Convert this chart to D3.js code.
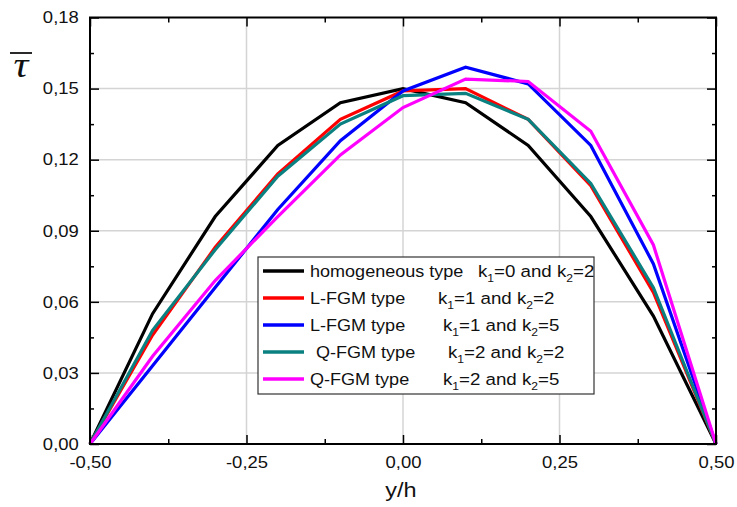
<html>
<head>
<meta charset="utf-8">
<script src="https://d3js.org/d3.v7.min.js"></script>
<style>
  body { margin: 0; background: #fff; }
  svg { font-family: "Liberation Sans", Arial, sans-serif; }
</style>
</head>
<body>
<script>
// data
var yh = [-0.5, -0.4, -0.3, -0.2, -0.1, 0.0, 0.1, 0.2, 0.3, 0.4, 0.5];
var homogeneous = [0, 0.055, 0.096, 0.126, 0.144, 0.150, 0.144, 0.126, 0.096, 0.054, 0];
var lfgm12 = [0, 0.046, 0.083, 0.114, 0.137, 0.149, 0.150, 0.137, 0.109, 0.064, 0];
var lfgm15 = [0, 0.033, 0.066, 0.099, 0.128, 0.149, 0.159, 0.152, 0.126, 0.076, 0];
var qfgm22 = [0, 0.048, 0.082, 0.113, 0.135, 0.147, 0.148, 0.137, 0.110, 0.066, 0];
var qfgm25 = [0, 0.037, 0.069, 0.096, 0.122, 0.142, 0.154, 0.153, 0.132, 0.084, 0];

var typeNames = ["homogeneous type", "L-FGM type", "L-FGM type", "Q-FGM type", "Q-FGM type"];
var k1 = [0, 1, 1, 2, 2];
var k2 = [2, 2, 5, 2, 5];
var colors = ["#000000", "#ff0000", "#0000ff", "#0a8080", "#ff00ff"];

var xTicks = [-0.5, -0.25, 0, 0.25, 0.5];
var xMinor = [-0.375, -0.125, 0.125, 0.375];
var yTicks = [0, 0.03, 0.06, 0.09, 0.12, 0.15, 0.18];
var yMinor = [0.015, 0.045, 0.075, 0.105, 0.135, 0.165];

var series = [homogeneous, lfgm12, lfgm15, qfgm22, qfgm25];

var W = 737, H = 507;
var pLeft = 90, pRight = 716, pTop = 17.5, pBottom = 444;
var sx = 1.12; // text is a bit wide in the picture

var svg = d3.select("body").append("svg")
    .attr("width", W)
    .attr("height", H);

var x = d3.scaleLinear().domain([-0.5, 0.5]).range([pLeft, pRight]);
var y = d3.scaleLinear().domain([0, 0.18]).range([pBottom, pTop]);

function comma(d) { return d3.format(".2f")(d).replace(".", ",").replace("\u2212", "-"); }

// grid
svg.append("g").selectAll("line")
    .data(xTicks.slice(1, -1))
    .enter().append("line")
    .attr("x1", function(d) { return x(d); })
    .attr("x2", function(d) { return x(d); })
    .attr("y1", pTop).attr("y2", pBottom)
    .attr("stroke", "#d4d4d4").attr("stroke-width", 1.5);
svg.append("g").selectAll("line")
    .data(yTicks.slice(1, -1))
    .enter().append("line")
    .attr("y1", function(d) { return y(d); })
    .attr("y2", function(d) { return y(d); })
    .attr("x1", pLeft).attr("x2", pRight)
    .attr("stroke", "#d4d4d4").attr("stroke-width", 1.5);

// axes (ticks inward)
var gx = svg.append("g")
    .attr("transform", "translate(0," + pBottom + ")")
    .call(d3.axisBottom(x).tickValues(xTicks).tickSizeInner(-9).tickSizeOuter(0).tickPadding(12).tickFormat(comma));
var gxm = svg.append("g")
    .attr("transform", "translate(0," + pBottom + ")")
    .call(d3.axisBottom(x).tickValues(xMinor).tickSizeInner(-5).tickSizeOuter(0).tickFormat(""));
var gxt = svg.append("g")
    .attr("transform", "translate(0," + pTop + ")")
    .call(d3.axisTop(x).tickValues(xTicks).tickSizeInner(-9).tickSizeOuter(0).tickFormat(""));
var gxtm = svg.append("g")
    .attr("transform", "translate(0," + pTop + ")")
    .call(d3.axisTop(x).tickValues(xMinor).tickSizeInner(-5).tickSizeOuter(0).tickFormat(""));

var gy = svg.append("g")
    .attr("transform", "translate(" + pLeft + ",0)")
    .call(d3.axisLeft(y).tickValues(yTicks).tickSizeInner(-9).tickSizeOuter(0).tickPadding(10).tickFormat(comma));
var gym = svg.append("g")
    .attr("transform", "translate(" + pLeft + ",0)")
    .call(d3.axisLeft(y).tickValues(yMinor).tickSizeInner(-4).tickSizeOuter(0).tickFormat(""));
var gyr = svg.append("g")
    .attr("transform", "translate(" + pRight + ",0)")
    .call(d3.axisRight(y).tickValues(yTicks).tickSizeInner(-9).tickSizeOuter(0).tickFormat(""));
var gyrm = svg.append("g")
    .attr("transform", "translate(" + pRight + ",0)")
    .call(d3.axisRight(y).tickValues(yMinor).tickSizeInner(-4).tickSizeOuter(0).tickFormat(""));

[gx, gxm, gxt, gxtm, gy, gym, gyr, gyrm].forEach(function(g) {
    g.select(".domain").remove();
    g.selectAll("line").attr("stroke", "#000").attr("stroke-width", 1.5);
    g.selectAll("text")
        .attr("font-family", "Liberation Sans, Arial, sans-serif")
        .attr("font-size", 16.5)
        .attr("fill", "#111");
});
gy.selectAll("text").attr("transform", "scale(" + sx + ",1)");
gx.selectAll("text").attr("transform", "scale(" + sx + ",1)");

// lines
var line = d3.line()
    .x(function(d, i) { return x(yh[i]); })
    .y(function(d) { return y(d); });

svg.append("g").selectAll("path")
    .data(series)
    .enter().append("path")
    .attr("d", line)
    .attr("fill", "none")
    .attr("stroke", function(d, i) { return colors[i]; })
    .attr("stroke-width", 3.2)
    .attr("stroke-linejoin", "miter");

// frame
svg.append("rect")
    .attr("x", pLeft).attr("y", pTop)
    .attr("width", pRight - pLeft).attr("height", pBottom - pTop)
    .attr("fill", "none").attr("stroke", "#000").attr("stroke-width", 2);

// axis titles
svg.append("text")
    .attr("transform", "translate(401,497) scale(" + sx + ",1)")
    .attr("text-anchor", "middle")
    .attr("font-size", 21)
    .attr("fill", "#111")
    .text("y/h");

svg.append("text")
    .attr("transform", "translate(21,77) scale(1.15,1)")
    .attr("text-anchor", "middle")
    .attr("font-family", "Liberation Serif, Times New Roman, serif")
    .attr("font-style", "italic")
    .attr("font-size", 36)
    .attr("fill", "#111")
    .text("τ");
svg.append("line")
    .attr("x1", 10).attr("x2", 32)
    .attr("y1", 53).attr("y2", 53)
    .attr("stroke", "#111").attr("stroke-width", 1.8);

// legend
var lgX = 258, lgY = 257, lgW = 336, lgH = 137, rowH = 27;
var nameX = [310, 310, 310, 316, 310];
var kX = [478, 438, 443, 448, 443];

var lg = svg.append("g");
lg.append("rect")
    .attr("x", lgX).attr("y", lgY)
    .attr("width", lgW).attr("height", lgH)
    .attr("fill", "#fff").attr("stroke", "#333").attr("stroke-width", 1.2);

typeNames.forEach(function(name, i) {
    var cy = lgY + 14 + i * rowH;
    lg.append("line")
        .attr("x1", 263).attr("x2", 304)
        .attr("y1", cy).attr("y2", cy)
        .attr("stroke", colors[i]).attr("stroke-width", 3.5);
    lg.append("text")
        .attr("transform", "translate(" + nameX[i] + "," + (cy + 6) + ") scale(1.08,1)")
        .attr("font-size", 16.7)
        .attr("fill", "#111")
        .text(name);
    var t = lg.append("text")
        .attr("transform", "translate(" + kX[i] + "," + (cy + 6) + ") scale(1.1,1)")
        .attr("font-size", 17)
        .attr("fill", "#111");
    t.append("tspan").text("k");
    t.append("tspan").attr("font-size", 11).attr("dy", 5).text("1");
    t.append("tspan").attr("dy", -5).text("=" + k1[i] + " and k");
    t.append("tspan").attr("font-size", 11).attr("dy", 5).text("2");
    t.append("tspan").attr("dy", -5).text("=" + k2[i]);
});
</script>
</body>
</html>
